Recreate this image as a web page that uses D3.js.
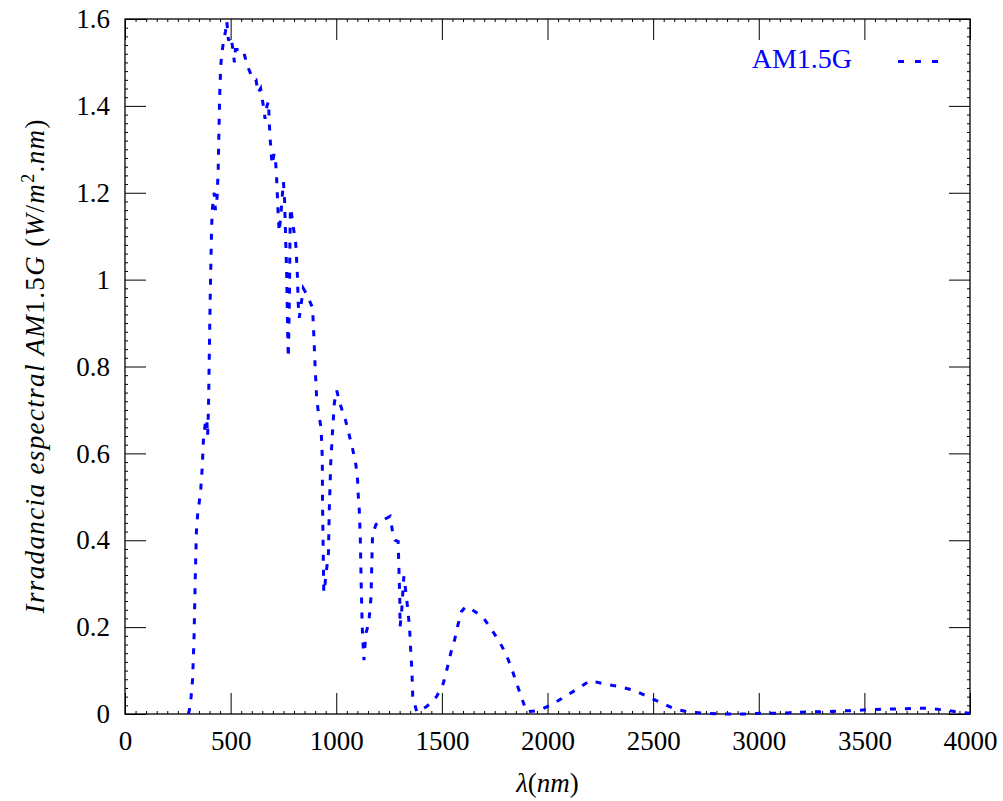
<!DOCTYPE html>
<html>
<head>
<meta charset="utf-8">
<script src="https://cdn.jsdelivr.net/npm/d3@7"></script>
<style>
	body { margin: 0; background: #fff; }
	svg text { font-family: 'Liberation Serif', 'Times New Roman', serif; }
</style>
</head>
<body>
<div id="chart-area"></div>
<script>
// AM1.5G espectro, valores
var wavelength = [300, 305, 313, 320, 327, 332, 338, 344, 352, 359, 366, 371, 379, 387, 391, 395, 403, 410, 414, 422,
	428, 436, 441, 448, 453, 458, 467, 475, 482, 490, 498, 508, 518, 523, 558, 581, 607, 620, 630, 642,
	655, 663, 672, 679, 686, 691, 696, 706, 711, 716, 720, 725, 730, 738, 744, 750, 755, 759, 765, 770,
	773, 778, 781, 783, 789, 797, 808, 812, 816, 820, 825, 844, 860, 888, 894, 900, 907, 915, 928, 934,
	935, 938, 941, 947, 955, 963, 967, 974, 982, 991, 1002, 1022, 1044, 1062, 1078, 1093, 1101, 1104, 1109, 1114,
	1118, 1123, 1131, 1140, 1152, 1160, 1165, 1168, 1172, 1188, 1204, 1223, 1255, 1267, 1278, 1293, 1297, 1301, 1302, 1309,
	1320, 1330, 1338, 1345, 1350, 1353, 1357, 1360, 1362, 1381, 1428, 1475, 1507, 1525, 1542, 1560, 1575, 1593, 1612, 1630,
	1693, 1733, 1769, 1802, 1830, 1853, 1877, 1901, 1958, 2022, 2075, 2146, 2201, 2272, 2341, 2414, 2474, 2541, 2604, 2666,
	2738, 2814, 2885, 2950, 3022, 3098, 3167, 3239, 3313, 3385, 3456, 3523, 3597, 3669, 3740, 3810, 3881, 3953, 4000];
var irradiance = [0, 0.01, 0.04, 0.08, 0.18, 0.30, 0.42, 0.46, 0.49, 0.52, 0.57, 0.63, 0.665, 0.68, 0.64, 0.70, 0.95, 1.12, 1.165, 1.20,
	1.16, 1.19, 1.25, 1.42, 1.49, 1.52, 1.55, 1.57, 1.595, 1.55, 1.56, 1.54, 1.50, 1.53, 1.53, 1.49, 1.46, 1.46, 1.43, 1.44,
	1.40, 1.37, 1.40, 1.41, 1.33, 1.30, 1.265, 1.29, 1.285, 1.25, 1.21, 1.15, 1.11, 1.15, 1.19, 1.225, 1.19, 1.12, 1.02, 0.88,
	0.82, 0.95, 1.10, 1.165, 1.15, 1.12, 1.085, 1.05, 1.01, 0.945, 0.912, 0.98, 0.966, 0.935, 0.87, 0.80, 0.73, 0.695, 0.66, 0.59,
	0.49, 0.38, 0.28, 0.30, 0.336, 0.37, 0.47, 0.578, 0.647, 0.716, 0.745, 0.708, 0.676, 0.641, 0.609, 0.574, 0.539, 0.505, 0.470, 0.401,
	0.30, 0.20, 0.124, 0.186, 0.205, 0.24, 0.274, 0.343, 0.413, 0.436, 0.443, 0.447, 0.455, 0.418, 0.400, 0.397, 0.33, 0.26, 0.20, 0.232,
	0.317, 0.279, 0.244, 0.209, 0.174, 0.14, 0.109, 0.074, 0.04, 0.005, 0.017, 0.040, 0.071, 0.105, 0.14, 0.17, 0.203, 0.236, 0.247, 0.244,
	0.224, 0.196, 0.169, 0.140, 0.105, 0.072, 0.038, 0.005, 0.008, 0.022, 0.038, 0.059, 0.077, 0.069, 0.063, 0.054, 0.040, 0.025, 0.011, 0.005,
	0.002, 0, 0, 0, 0.002, 0.002, 0.003, 0.005, 0.005, 0.007, 0.008, 0.010, 0.011, 0.012, 0.013, 0.013, 0.009, 0.004, 0.002];

var xTicks = [0, 500, 1000, 1500, 2000, 2500, 3000, 3500, 4000];
var yTicks = [0, 0.2, 0.4, 0.6, 0.8, 1, 1.2, 1.4, 1.6];
var seriesName = 'AM1.5G';

var width = 1003;
var height = 801;
var margin = { top: 19, right: 33, bottom: 87, left: 125 };
var plotW = width - margin.left - margin.right;
var plotH = height - margin.top - margin.bottom;

var svg = d3.select('#chart-area')
	.append('svg')
	.attr('width', width)
	.attr('height', height);

var g = svg.append('g')
	.attr('transform', 'translate(' + margin.left + ',' + margin.top + ')');

var x = d3.scaleLinear().domain([0, 4000]).range([0, plotW]);
var y = d3.scaleLinear().domain([0, 1.6]).range([plotH, 0]);

var xMinor = d3.range(0, 81).map(i => i * 50).filter(v => v % 500 != 0);
var yMinor = d3.range(0, 81).filter(i => i % 10 != 0).map(i => i * 0.02);

function styleAxis(sel) {
	sel.select('.domain').remove();
	sel.selectAll('line').attr('stroke', '#000').attr('stroke-width', 1);
	sel.selectAll('text').attr('font-size', 27).attr('fill', '#000')
		.style('font-family', "'Liberation Serif', 'Times New Roman', serif");
}

// ticks menores (hacia dentro)
g.append('g').attr('transform', 'translate(0,' + plotH + ')')
	.call(d3.axisBottom(x).tickValues(xMinor).tickSize(-3).tickFormat('')).call(styleAxis);
g.append('g')
	.call(d3.axisTop(x).tickValues(xMinor).tickSize(-3).tickFormat('')).call(styleAxis);
g.append('g')
	.call(d3.axisLeft(y).tickValues(yMinor).tickSize(-3).tickFormat('')).call(styleAxis);
g.append('g').attr('transform', 'translate(' + plotW + ',0)')
	.call(d3.axisRight(y).tickValues(yMinor).tickSize(-3).tickFormat('')).call(styleAxis);

// ticks mayores
g.append('g').attr('transform', 'translate(0,' + plotH + ')')
	.call(d3.axisBottom(x).tickValues(xTicks).tickSize(-21).tickPadding(17).tickFormat(d3.format('d')))
	.call(styleAxis);
g.append('g')
	.call(d3.axisTop(x).tickValues(xTicks).tickSize(-21).tickFormat('')).call(styleAxis);
g.append('g')
	.call(d3.axisLeft(y).tickValues(yTicks).tickSize(-21).tickPadding(15).tickFormat(d => d3.format('')(+d.toFixed(1))))
	.call(styleAxis);
g.append('g').attr('transform', 'translate(' + plotW + ',0)')
	.call(d3.axisRight(y).tickValues(yTicks).tickSize(-21).tickFormat('')).call(styleAxis);

// marco
g.append('rect')
	.attr('width', plotW)
	.attr('height', plotH)
	.attr('fill', 'none')
	.attr('stroke', '#000')
	.attr('stroke-width', 1.3);

var data = wavelength.map((w, i) => ({ w: w, v: irradiance[i] }));

var line = d3.line()
	.x(d => x(d.w))
	.y(d => y(d.v));

g.append('path')
	.datum(data)
	.attr('d', line)
	.attr('fill', 'none')
	.attr('stroke', '#0000ff')
	.attr('stroke-width', 3)
	.attr('stroke-dasharray', '6,9');

// leyenda
g.append('text')
	.attr('x', 727)
	.attr('y', 49)
	.attr('text-anchor', 'end')
	.attr('font-size', 28)
	.attr('fill', '#0000ff')
	.text(seriesName);
g.append('line')
	.attr('x1', 773).attr('x2', 815)
	.attr('y1', 42.5).attr('y2', 42.5)
	.attr('stroke', '#0000ff')
	.attr('stroke-width', 3)
	.attr('stroke-dasharray', '6,11');

// etiqueta eje x
var xl = svg.append('text')
	.attr('x', margin.left + plotW / 2)
	.attr('y', 792)
	.attr('text-anchor', 'middle')
	.attr('font-size', 27);
xl.append('tspan').attr('font-style', 'italic').text('λ');
xl.append('tspan').text('(');
xl.append('tspan').attr('font-style', 'italic').text('nm');
xl.append('tspan').text(')');

// etiqueta eje y
var yl = svg.append('text')
	.attr('transform', 'translate(44,' + (margin.top + plotH / 2) + ') rotate(-90)')
	.attr('text-anchor', 'middle')
	.attr('font-size', 27)
	.attr('textLength', 494)
	.attr('lengthAdjust', 'spacing');
yl.append('tspan').attr('font-style', 'italic').text('Irradancia espectral AM');
yl.append('tspan').text('1.5');
yl.append('tspan').attr('font-style', 'italic').text('G ');
yl.append('tspan').text('(');
yl.append('tspan').attr('font-style', 'italic').text('W');
yl.append('tspan').text('/');
yl.append('tspan').attr('font-style', 'italic').text('m');
yl.append('tspan').attr('font-size', 18).attr('dy', -10).text('2');
yl.append('tspan').attr('dy', 10).text('.');
yl.append('tspan').attr('font-style', 'italic').text('nm');
yl.append('tspan').text(')');
</script>
</body>
</html>
